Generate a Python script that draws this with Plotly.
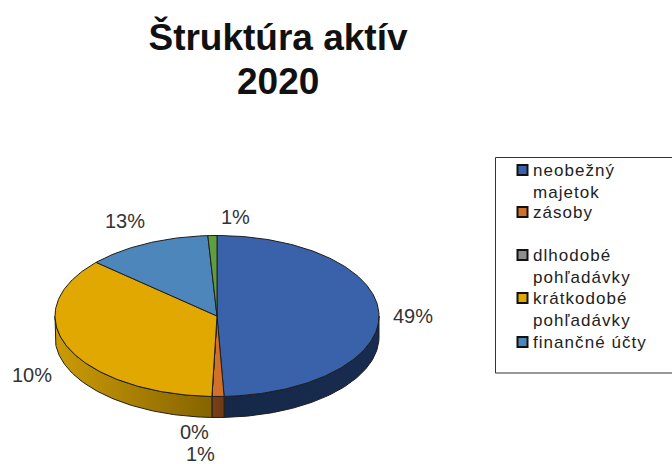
import numpy as np
import plotly.graph_objects as go

# --- data ---
slice_names = ["neobežný majetok", "zásoby", "dlhodobé pohľadávky", "krátkodobé pohľadávky", "finančné účty", ""]
slice_shares = [49.3, 1.2, 0.0, 36.1, 12.5, 0.9]
slice_labels = ["49%", "1%", "0%", "10%", "13%", "1%"]
title_lines = ["Štruktúra aktív", "2020"]
legend_lines = ["neobežný<br>majetok", "zásoby", "dlhodobé<br>pohľadávky", "krátkodobé<br>pohľadávky", "finančné účty"]

# --- styling ---
top_colors = ["#3A62AB", "#D2702A", "#8E8E8E", "#E0A800", "#4C86BA", "#5F9E3F"]
side_left = ["#152848", "#7A3E16", "#555555", "#CC9B05", "#2E5475", "#3A6226"]
side_right = ["#182C50", "#6E3A15", "#555555", "#856400", "#2E5475", "#3A6226"]
OUTLINE = "#1E1E1E"
CX, CY, RX, RY, DEPTH = 217, 316, 162, 80.5, 21
label_xy = [(413, 316), (200, 454), (194, 432), (32, 375), (125, 221), (235, 217)]
legend_text_y = [170, 212, 255, 298, 342]
LINE_H = 21.6


def rim(a0, a1, dy=0.0, n=None):
    n = n or max(2, int(abs(a1 - a0)) + 2)
    t = np.radians(np.linspace(a0, a1, n))
    return CX + RX * np.sin(t), CY - RY * np.cos(t) + dy


fig = go.Figure()
edges = np.cumsum([0.0] + slice_shares)
edges = edges / edges[-1] * 360

# side wall: the front half only (90° to 270° from the top, clockwise)
for i, name in enumerate(slice_names):
    a0, a1 = max(edges[i], 90), min(edges[i + 1], 270)
    if a1 <= a0:
        continue
    x0, y0 = rim(a0, a1)
    x1, y1 = rim(a1, a0, DEPTH)
    xs = np.r_[x0, x1, x0[0]]
    ys = np.r_[y0, y1, y0[0]]
    xl, xr = float(xs.min()), float(xs.max())
    fig.add_trace(go.Scatter(
        x=xs, y=ys, mode="lines", fill="toself", name=name,
        line=dict(color=OUTLINE, width=1),
        fillgradient=dict(type="horizontal", start=xl, stop=xr,
                          colorscale=[[0, side_left[i]], [1, side_right[i]]]),
        hoverinfo="skip", showlegend=False))

# top face
for i, name in enumerate(slice_names):
    x0, y0 = rim(edges[i], edges[i + 1])
    fig.add_trace(go.Scatter(
        x=np.r_[CX, x0, CX], y=np.r_[CY, y0, CY], mode="lines", fill="toself", name=name,
        fillcolor=top_colors[i], line=dict(color=OUTLINE, width=1),
        hoverinfo="skip", showlegend=False))

annotations = []
for txt, (x, y) in zip(slice_labels, label_xy):
    annotations.append(dict(x=x, y=y, text=txt, showarrow=False, xanchor="center", yanchor="middle",
                            font=dict(family="Liberation Sans", size=20, color="#333333")))

# second title line (tighter line gap than a <br> would give)
annotations.append(dict(x=278, y=81, text=title_lines[1], showarrow=False, xanchor="center", yanchor="middle",
                        font=dict(family="Liberation Sans", size=37, color="#111111", weight="bold")))

# legend
for txt, y in zip(legend_lines, legend_text_y):
    annotations.append(dict(x=532, y=y - LINE_H / 2 + 0.5, text=txt, showarrow=False,
                            xanchor="left", yanchor="top", align="left", borderpad=0,
                            font=dict(family="Liberation Sans", size=17, color="#222222")))
fig.add_trace(go.Scatter(
    x=[522.5] * 5, y=legend_text_y, mode="markers",
    marker=dict(symbol="square", size=10, color=top_colors[:5], line=dict(color="#111111", width=2)),
    hoverinfo="skip", showlegend=False))

fig.update_layout(
    width=672, height=464, margin=dict(l=0, r=0, t=0, b=0),
    paper_bgcolor="white", plot_bgcolor="white", showlegend=False,
    title=dict(text=title_lines[0], x=278 / 672, xanchor="center", y=1 - 37 / 464, yanchor="middle",
               font=dict(family="Liberation Sans", size=37, color="#111111", weight="bold")),
    xaxis=dict(range=[0, 672], visible=False, fixedrange=True),
    yaxis=dict(range=[464, 0], visible=False, fixedrange=True),
    annotations=annotations,
    shapes=[dict(type="rect", x0=495.5, x1=700, y0=157.5, y1=373, layer="below",
                 line=dict(color="#333333", width=1), fillcolor="white")],
)
post = """
document.body.style.margin='0';document.body.style.overflow='hidden';
document.querySelectorAll('.annotation-text').forEach(function(t){
  if (parseFloat(t.style.fontSize) === 17) { t.style.letterSpacing = '1.05px'; }
});
"""
fig.write_html("out.html", config=dict(displayModeBar=False), post_script=post)
